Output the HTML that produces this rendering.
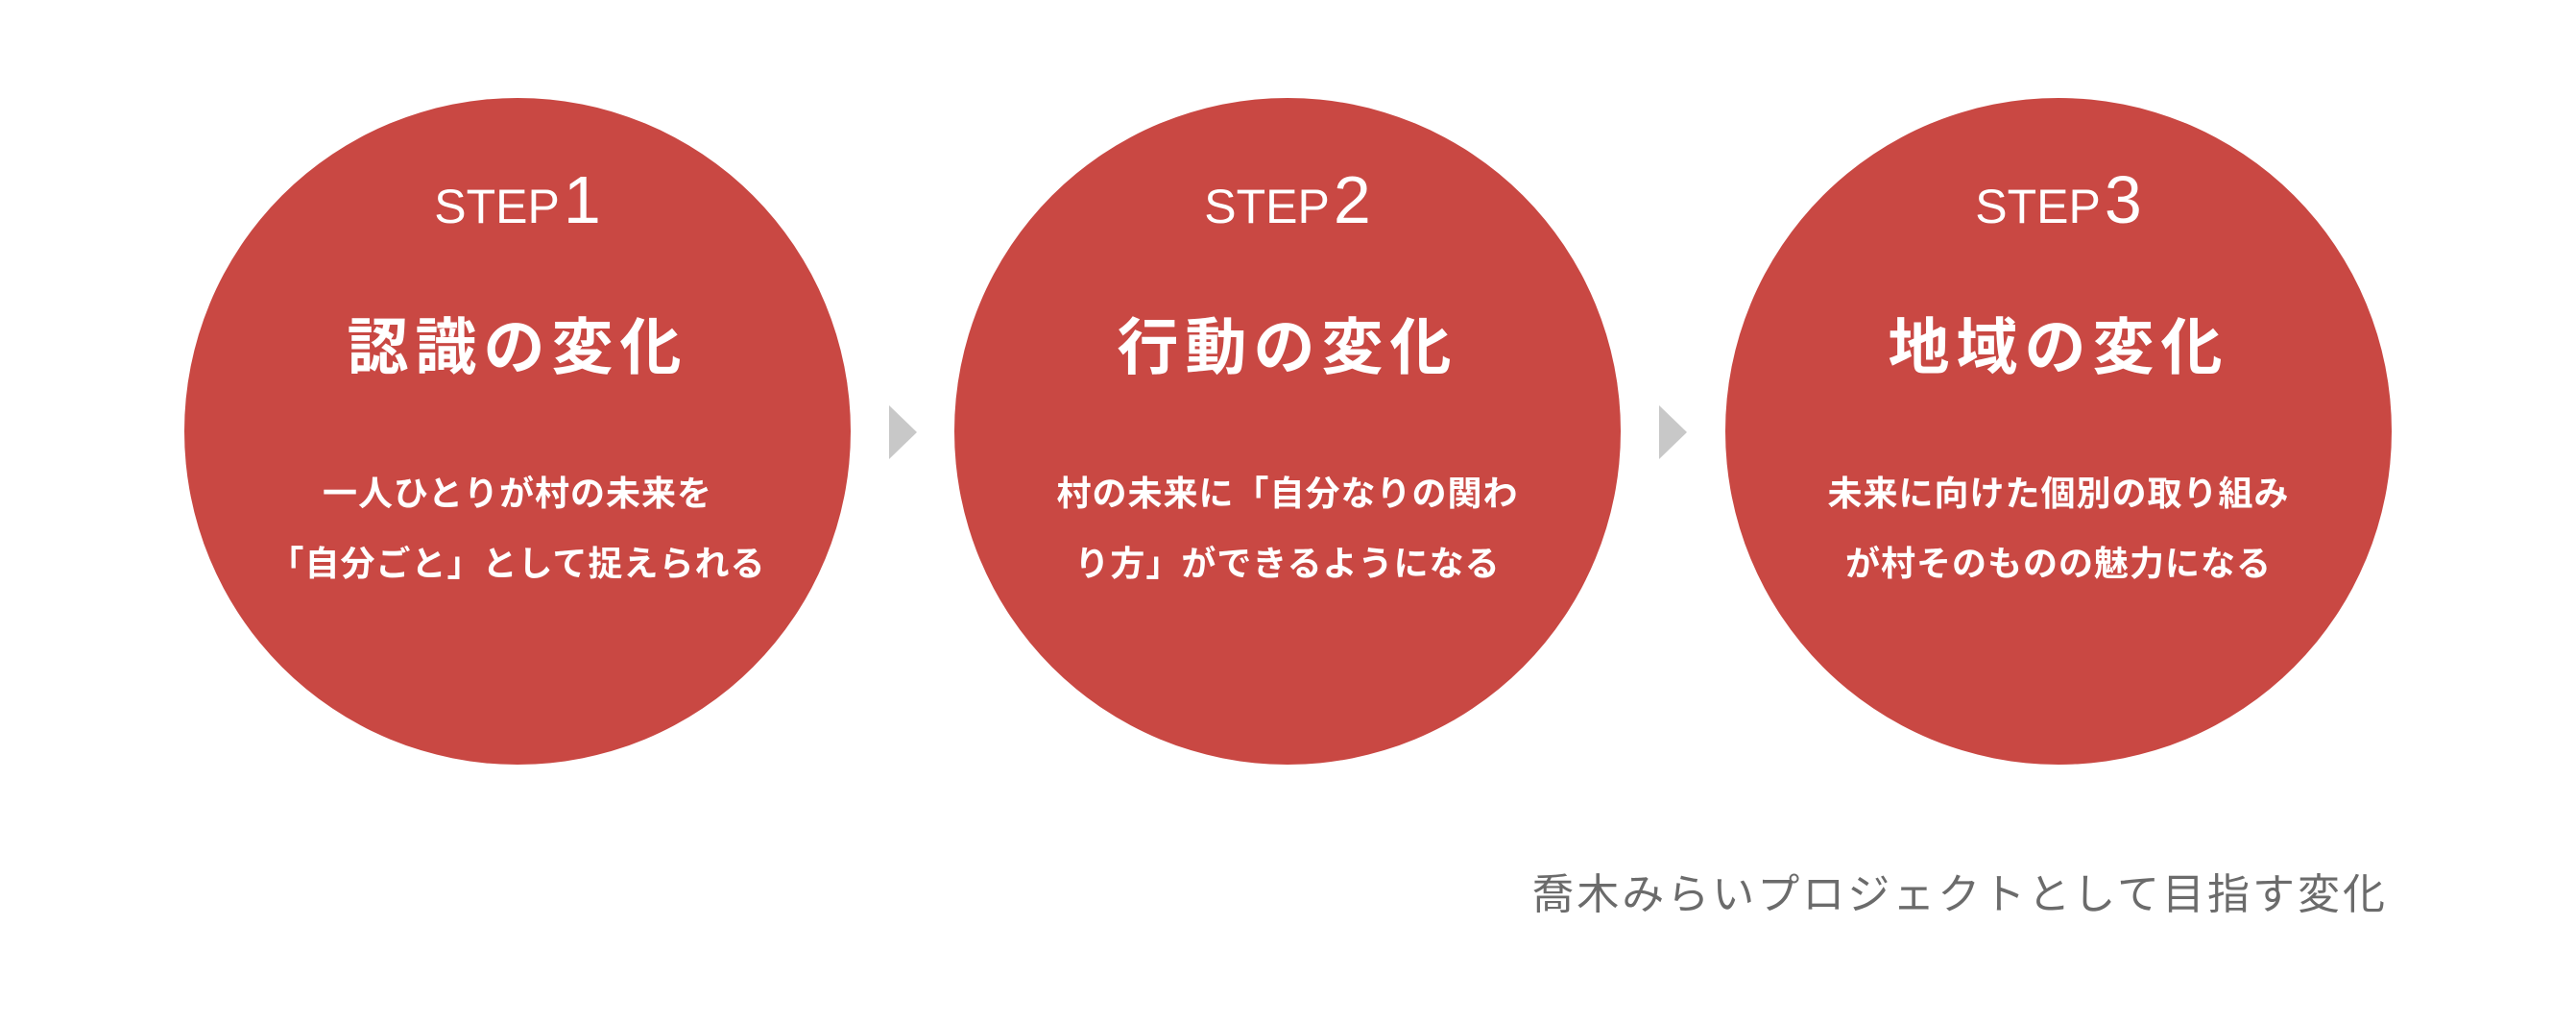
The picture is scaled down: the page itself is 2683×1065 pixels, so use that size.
<!DOCTYPE html>
<html><head><meta charset="utf-8"><style>
html,body{margin:0;padding:0;background:#fff;}
body{width:2683px;height:1065px;position:relative;overflow:hidden;font-family:"Liberation Sans","Noto Sans CJK JP",sans-serif;}
.c{position:absolute;width:694px;height:694px;border-radius:50%;background:#c94843;top:102px;color:#fff;text-align:center;}
.step{position:absolute;left:0;right:0;top:66px;font-size:50px;line-height:80px;font-weight:normal;}
.step b{font-size:70px;font-weight:normal;margin-left:4px;}
.t{position:absolute;left:0;right:0;top:220px;font-size:64px;line-height:80px;font-weight:bold;letter-spacing:7px;}
.d{position:absolute;left:0;right:0;top:375px;font-size:36px;line-height:73px;font-weight:bold;letter-spacing:1px;}
.a{position:absolute;top:422px;width:0;height:0;border-top:28px solid transparent;border-bottom:28px solid transparent;border-left:29px solid #c8c8c8;}
.f{position:absolute;right:196px;top:902px;font-size:44px;line-height:60px;color:#6b6b6b;letter-spacing:3px;}
</style></head><body>
<div class="c" style="left:192px"><div class="step">STEP<b>1</b></div><div class="t">認識の変化</div><div class="d">一人ひとりが村の未来を<br>「自分ごと」として捉えられる</div></div>
<div class="a" style="left:926px"></div>
<div class="c" style="left:994px"><div class="step">STEP<b>2</b></div><div class="t">行動の変化</div><div class="d">村の未来に「自分なりの関わ<br>り方」ができるようになる</div></div>
<div class="a" style="left:1728px"></div>
<div class="c" style="left:1797px"><div class="step">STEP<b>3</b></div><div class="t">地域の変化</div><div class="d">未来に向けた個別の取り組み<br>が村そのものの魅力になる</div></div>
<div class="f">喬木みらいプロジェクトとして目指す変化</div>
</body></html>
